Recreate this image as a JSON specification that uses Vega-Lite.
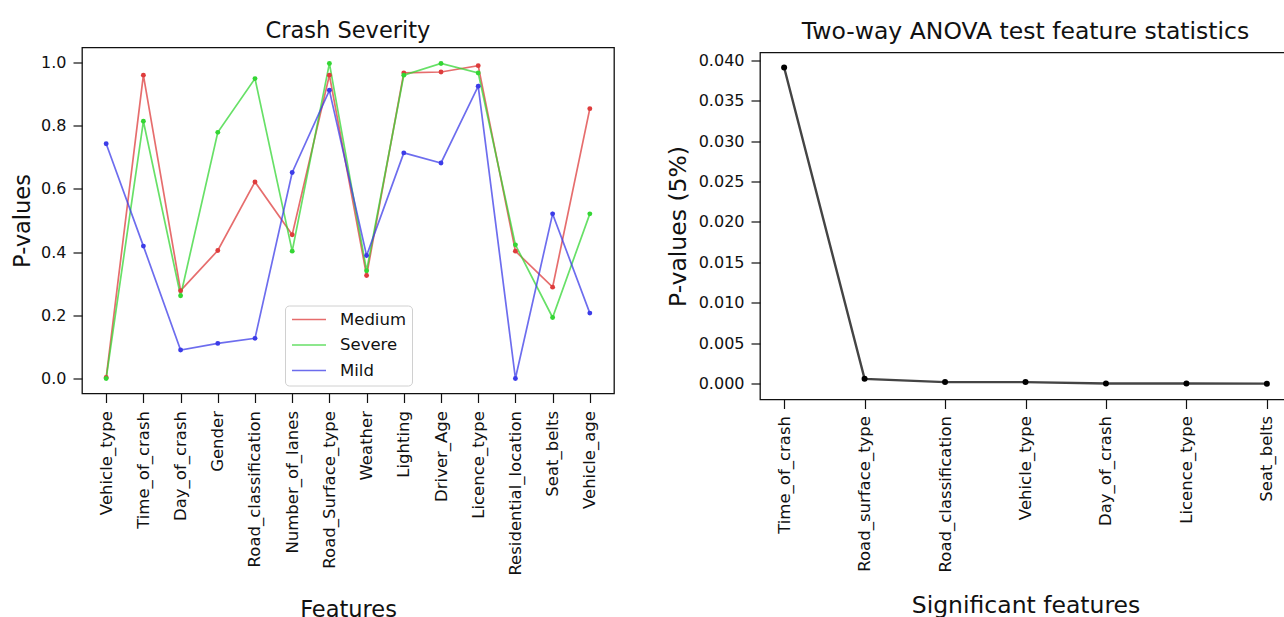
{
  "$schema": "https://vega.github.io/schema/vega-lite/v6.json",
  "background": "white",
  "padding": {"left": 10, "top": 17.5, "right": -7, "bottom": -4},
  "spacing": 50,
  "config": {
    "font": "DejaVu Sans",
    "view": {"stroke": "#111111", "strokeWidth": 1.3},
    "axis": {
      "grid": false,
      "domain": false,
      "labelFont": "DejaVu Sans",
      "labelColor": "#111111",
      "labelFontSize": 16,
      "titleFont": "DejaVu Sans",
      "titleFontWeight": "normal",
      "titleColor": "#111111",
      "tickColor": "#111111",
      "tickSize": 9,
      "tickWidth": 1.2
    },
    "title": {"font": "DejaVu Sans", "fontWeight": "normal", "color": "#111111", "anchor": "middle"}
  },
  "hconcat": [
    {
      "spacing": 0,
      "vconcat": [
        {
          "width": 532,
          "height": 1,
          "data": {"values": []},
          "mark": "point",
          "view": {"stroke": null}
        },
        {
          "title": {"text": "Crash Severity", "fontSize": 22.5, "offset": 5},
          "width": 532,
          "height": 346,
          "data": {
            "values": [
              {"feature": "Vehicle_type", "severity": "Medium", "p": 0.003},
              {"feature": "Time_of_crash", "severity": "Medium", "p": 0.960},
              {"feature": "Day_of_crash", "severity": "Medium", "p": 0.278},
              {"feature": "Gender", "severity": "Medium", "p": 0.405},
              {"feature": "Road_classification", "severity": "Medium", "p": 0.622},
              {"feature": "Number_of_lanes", "severity": "Medium", "p": 0.455},
              {"feature": "Road_Surface_type", "severity": "Medium", "p": 0.960},
              {"feature": "Weather", "severity": "Medium", "p": 0.326},
              {"feature": "Lighting", "severity": "Medium", "p": 0.967},
              {"feature": "Driver_Age", "severity": "Medium", "p": 0.970},
              {"feature": "Licence_type", "severity": "Medium", "p": 0.990},
              {"feature": "Residential_location", "severity": "Medium", "p": 0.403},
              {"feature": "Seat_belts", "severity": "Medium", "p": 0.289},
              {"feature": "Vehicle_age", "severity": "Medium", "p": 0.854},
              {"feature": "Vehicle_type", "severity": "Severe", "p": 0.000},
              {"feature": "Time_of_crash", "severity": "Severe", "p": 0.814},
              {"feature": "Day_of_crash", "severity": "Severe", "p": 0.262},
              {"feature": "Gender", "severity": "Severe", "p": 0.779},
              {"feature": "Road_classification", "severity": "Severe", "p": 0.949},
              {"feature": "Number_of_lanes", "severity": "Severe", "p": 0.403},
              {"feature": "Road_Surface_type", "severity": "Severe", "p": 0.997},
              {"feature": "Weather", "severity": "Severe", "p": 0.341},
              {"feature": "Lighting", "severity": "Severe", "p": 0.960},
              {"feature": "Driver_Age", "severity": "Severe", "p": 0.997},
              {"feature": "Licence_type", "severity": "Severe", "p": 0.967},
              {"feature": "Residential_location", "severity": "Severe", "p": 0.423},
              {"feature": "Seat_belts", "severity": "Severe", "p": 0.193},
              {"feature": "Vehicle_age", "severity": "Severe", "p": 0.521},
              {"feature": "Vehicle_type", "severity": "Mild", "p": 0.743},
              {"feature": "Time_of_crash", "severity": "Mild", "p": 0.419},
              {"feature": "Day_of_crash", "severity": "Mild", "p": 0.090},
              {"feature": "Gender", "severity": "Mild", "p": 0.111},
              {"feature": "Road_classification", "severity": "Mild", "p": 0.127},
              {"feature": "Number_of_lanes", "severity": "Mild", "p": 0.652},
              {"feature": "Road_Surface_type", "severity": "Mild", "p": 0.912},
              {"feature": "Weather", "severity": "Mild", "p": 0.389},
              {"feature": "Lighting", "severity": "Mild", "p": 0.714},
              {"feature": "Driver_Age", "severity": "Mild", "p": 0.682},
              {"feature": "Licence_type", "severity": "Mild", "p": 0.925},
              {"feature": "Residential_location", "severity": "Mild", "p": 0.000},
              {"feature": "Seat_belts", "severity": "Mild", "p": 0.521},
              {"feature": "Vehicle_age", "severity": "Mild", "p": 0.207}
            ]
          },
          "encoding": {
            "x": {
              "field": "feature",
              "type": "nominal",
              "sort": null,
              "scale": {"type": "point", "padding": 0.65},
              "axis": {
                "title": "Features",
                "titleFontSize": 22.5,
                "titlePadding": 23,
                "labelAngle": -90,
                "labelFontSize": 16.5,
                "labelPadding": 8
              }
            },
            "y": {
              "field": "p",
              "type": "quantitative",
              "scale": {"domain": [-0.0475, 1.0475], "nice": false, "zero": false},
              "axis": {
                "title": "P-values",
                "titleFontSize": 22.5,
                "titlePadding": 6,
                "labelPadding": 7,
                "values": [0, 0.2, 0.4, 0.6, 0.8, 1.0],
                "format": ".1f"
              }
            },
            "color": {
              "field": "severity",
              "type": "nominal",
              "scale": {"domain": ["Medium", "Severe", "Mild"], "range": ["#de3c3c", "#34d634", "#3c3ce8"]},
              "legend": {
                "title": null,
                "orient": "none",
                "legendX": 203,
                "legendY": 288,
                "symbolType": "stroke",
                "symbolSize": 1156,
                "symbolStrokeWidth": 1.7,
                "symbolOpacity": 0.75,
                "clipHeight": 16,
                "rowPadding": 8.5,
                "labelOffset": 13,
                "labelFontSize": 16.5,
                "labelColor": "#111111",
                "padding": 6,
                "fillColor": "rgba(255,255,255,0.85)",
                "strokeColor": "#d0d0d0",
                "cornerRadius": 4
              }
            }
          },
          "layer": [
            {"mark": {"type": "line", "strokeWidth": 1.7, "opacity": 0.75}},
            {"mark": {"type": "circle", "size": 24, "opacity": 1}}
          ]
        }
      ]
    },
    {
      "spacing": 0,
      "vconcat": [
        {
          "width": 531,
          "height": 1,
          "data": {"values": []},
          "mark": "point",
          "view": {"stroke": null}
        },
        {
          "title": {"text": "Two-way ANOVA test feature statistics", "fontSize": 23.5, "offset": 9},
          "width": 531,
          "height": 347,
          "data": {
            "values": [
              {"feature": "Time_of_crash", "p": 0.0391},
              {"feature": "Road_surface_type", "p": 0.0006},
              {"feature": "Road_classification", "p": 0.0002},
              {"feature": "Vehicle_type", "p": 0.0002},
              {"feature": "Day_of_crash", "p": 0.00003},
              {"feature": "Licence_type", "p": 0.00002},
              {"feature": "Seat_belts", "p": 0.00001}
            ]
          },
          "encoding": {
            "x": {
              "field": "feature",
              "type": "nominal",
              "sort": null,
              "scale": {"type": "point", "padding": 0.3},
              "axis": {
                "title": "Significant features",
                "titleFontSize": 23.5,
                "titlePadding": 22,
                "labelAngle": -90,
                "labelFontSize": 16.5,
                "labelPadding": 7
              }
            },
            "y": {
              "field": "p",
              "type": "quantitative",
              "scale": {"domain": [-0.00195, 0.04095], "nice": false, "zero": false},
              "axis": {
                "title": "P-values (5%)",
                "titleFontSize": 23.5,
                "titlePadding": 8,
                "labelPadding": 7,
                "values": [0, 0.005, 0.01, 0.015, 0.02, 0.025, 0.03, 0.035, 0.04],
                "format": ".3f"
              }
            }
          },
          "layer": [
            {"mark": {"type": "line", "color": "#444444", "strokeWidth": 2.4}},
            {"mark": {"type": "circle", "color": "#000000", "size": 36, "opacity": 1}}
          ]
        }
      ]
    }
  ]
}
